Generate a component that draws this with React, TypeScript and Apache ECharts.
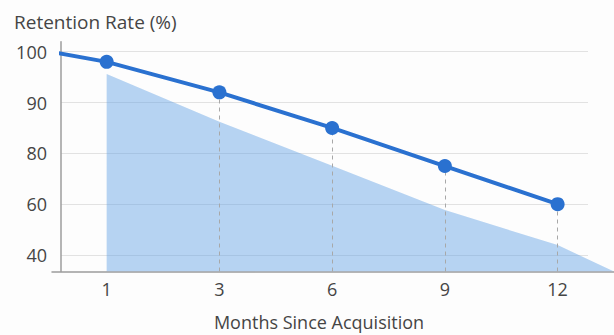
import React, { useEffect, useRef } from "react";
import * as echarts from "echarts";

// Tick labels as printed on the chart (evenly spaced on the axes)
const yTickLabels = [40, 60, 80, 90, 100];
const xTickLabels = [1, 3, 6, 9, 12];

// Retention curve
const lineMonths = [0, 1, 3, 6, 9, 12];
const retention = [100, 98, 92, 85, 75, 60];

// Shaded region under the curve
const areaMonths = [1, 3, 6, 9, 12, 13.5];
const areaValues = [95.6, 86.2, 75.1, 57.7, 43.9, 33.5];

// Months with a dashed drop line
const dropMonths = [3, 6, 9, 12];

// map a value onto the evenly spaced tick positions (piecewise linear)
function toPos(nodes: number[], v: number): number {
  const n = nodes.length;
  let i = 0;
  if (v >= nodes[n - 1]) i = n - 2;
  else if (v > nodes[0]) {
    while (i < n - 2 && v > nodes[i + 1]) i++;
  }
  return i + (v - nodes[i]) / (nodes[i + 1] - nodes[i]);
}
const xp = (m: number) => toPos(xTickLabels, m);
const yp = (v: number) => toPos(yTickLabels, v);

const Y_MIN = -0.325;
const Y_MAX = 4.197;
const X_MIN = -0.405;
const X_MAX = 4.5;
const TICKS = [0, 1, 2, 3, 4];

const FONT = "Open Sans";
const TEXT = "#454545";
const BLUE = "#2a71d0";

export default function App() {
  const ref = useRef<HTMLDivElement>(null);
  useEffect(() => {
    if (!ref.current) return;
    const chart = echarts.init(ref.current, undefined, { renderer: "svg" });
    const gridCommon = { top: 41.7, bottom: 63.5, outerBoundsMode: "none" };
    const hiddenAxis = {
      axisLine: { show: false, onZero: false },
      axisTick: { show: false },
      axisLabel: { show: false },
      splitLine: { show: false },
    };
    chart.setOption({
      animation: false,
      backgroundColor: "#fdfdfd",
      textStyle: { fontFamily: FONT },
      title: {
        text: "Retention Rate (%)",
        left: 14,
        top: 12,
        padding: 0,
        textStyle: { fontSize: 19, fontWeight: "normal", color: TEXT, fontFamily: FONT },
      },
      grid: [
        { ...gridCommon, left: 61, right: 26 },
        { ...gridCommon, left: 61, right: 0 },
        { ...gridCommon, left: 52, right: 0 },
      ],
      xAxis: [
        {
          gridIndex: 0,
          type: "value",
          min: X_MIN,
          max: X_MAX,
          ...hiddenAxis,
          name: "Months Since Acquisition",
          nameLocation: "middle",
          nameGap: 41,
          nameTextStyle: { fontSize: 18, color: TEXT, fontFamily: FONT, padding: [0, 11, 0, 0] },
        },
        {
          gridIndex: 1,
          type: "value",
          min: X_MIN,
          max: X_MAX,
          axisLine: { show: false, onZero: false },
          axisTick: { show: false, customValues: TICKS },
          splitLine: { show: false },
          axisLabel: {
            customValues: TICKS,
            formatter: (v: number) => String(xTickLabels[Math.round(v)]),
            fontSize: 18,
            color: TEXT,
            fontFamily: FONT,
            margin: 8,
          },
        },
        {
          gridIndex: 2,
          type: "value",
          min: 0,
          max: 1,
          axisLine: { show: true, onZero: false, lineStyle: { color: "#9c9c9c", width: 1.5 } },
          axisTick: { show: false },
          axisLabel: { show: false },
          splitLine: { show: false },
        },
      ],
      yAxis: [
        {
          gridIndex: 0,
          type: "value",
          min: Y_MIN,
          max: Y_MAX,
          axisLine: { show: true, onZero: false, lineStyle: { color: "#9c9c9c", width: 1.5 } },
          axisTick: { show: false, customValues: TICKS },
          axisLabel: {
            customValues: TICKS,
            formatter: (v: number) => String(yTickLabels[Math.round(v)]),
            fontSize: 18,
            color: TEXT,
            fontFamily: FONT,
            margin: 14,
          },
          splitLine: { show: true, lineStyle: { color: "#e2e2e2", width: 1 } },
        },
        { gridIndex: 1, type: "value", min: Y_MIN, max: Y_MAX, ...hiddenAxis },
        { gridIndex: 2, type: "value", min: 0, max: 1, ...hiddenAxis },
      ],
      series: [
        {
          type: "line",
          xAxisIndex: 1,
          yAxisIndex: 1,
          data: areaMonths.map((m, i) => [xp(m), yp(areaValues[i])]),
          showSymbol: false,
          symbol: "none",
          lineStyle: { width: 0 },
          areaStyle: { color: "rgba(92, 156, 228, 0.44)", opacity: 1, origin: "start" },
          silent: true,
          z: 1,
          markLine: {
            silent: true,
            symbol: ["none", "none"],
            label: { show: false },
            lineStyle: { type: [4, 4], color: "#a8a8a8", width: 1 },
            animation: false,
            data: dropMonths.map((m) => {
              const v = retention[lineMonths.indexOf(m)];
              return [{ coord: [xp(m), Y_MIN] }, { coord: [xp(m), yp(v)] }];
            }),
          },
        },
        {
          type: "line",
          xAxisIndex: 1,
          yAxisIndex: 1,
          z: 10,
          data: lineMonths.map((m, i) => ({
            value: [xp(m), yp(retention[i])],
            symbolSize: m === 0 ? 0 : 14,
          })),
          symbol: "circle",
          itemStyle: { color: BLUE },
          lineStyle: { color: BLUE, width: 4 },
        },
      ],
    });
    return () => chart.dispose();
  }, []);
  return <div ref={ref} style={{ width: 614, height: 335, position: "absolute", left: 0, top: 0 }} />;
}
